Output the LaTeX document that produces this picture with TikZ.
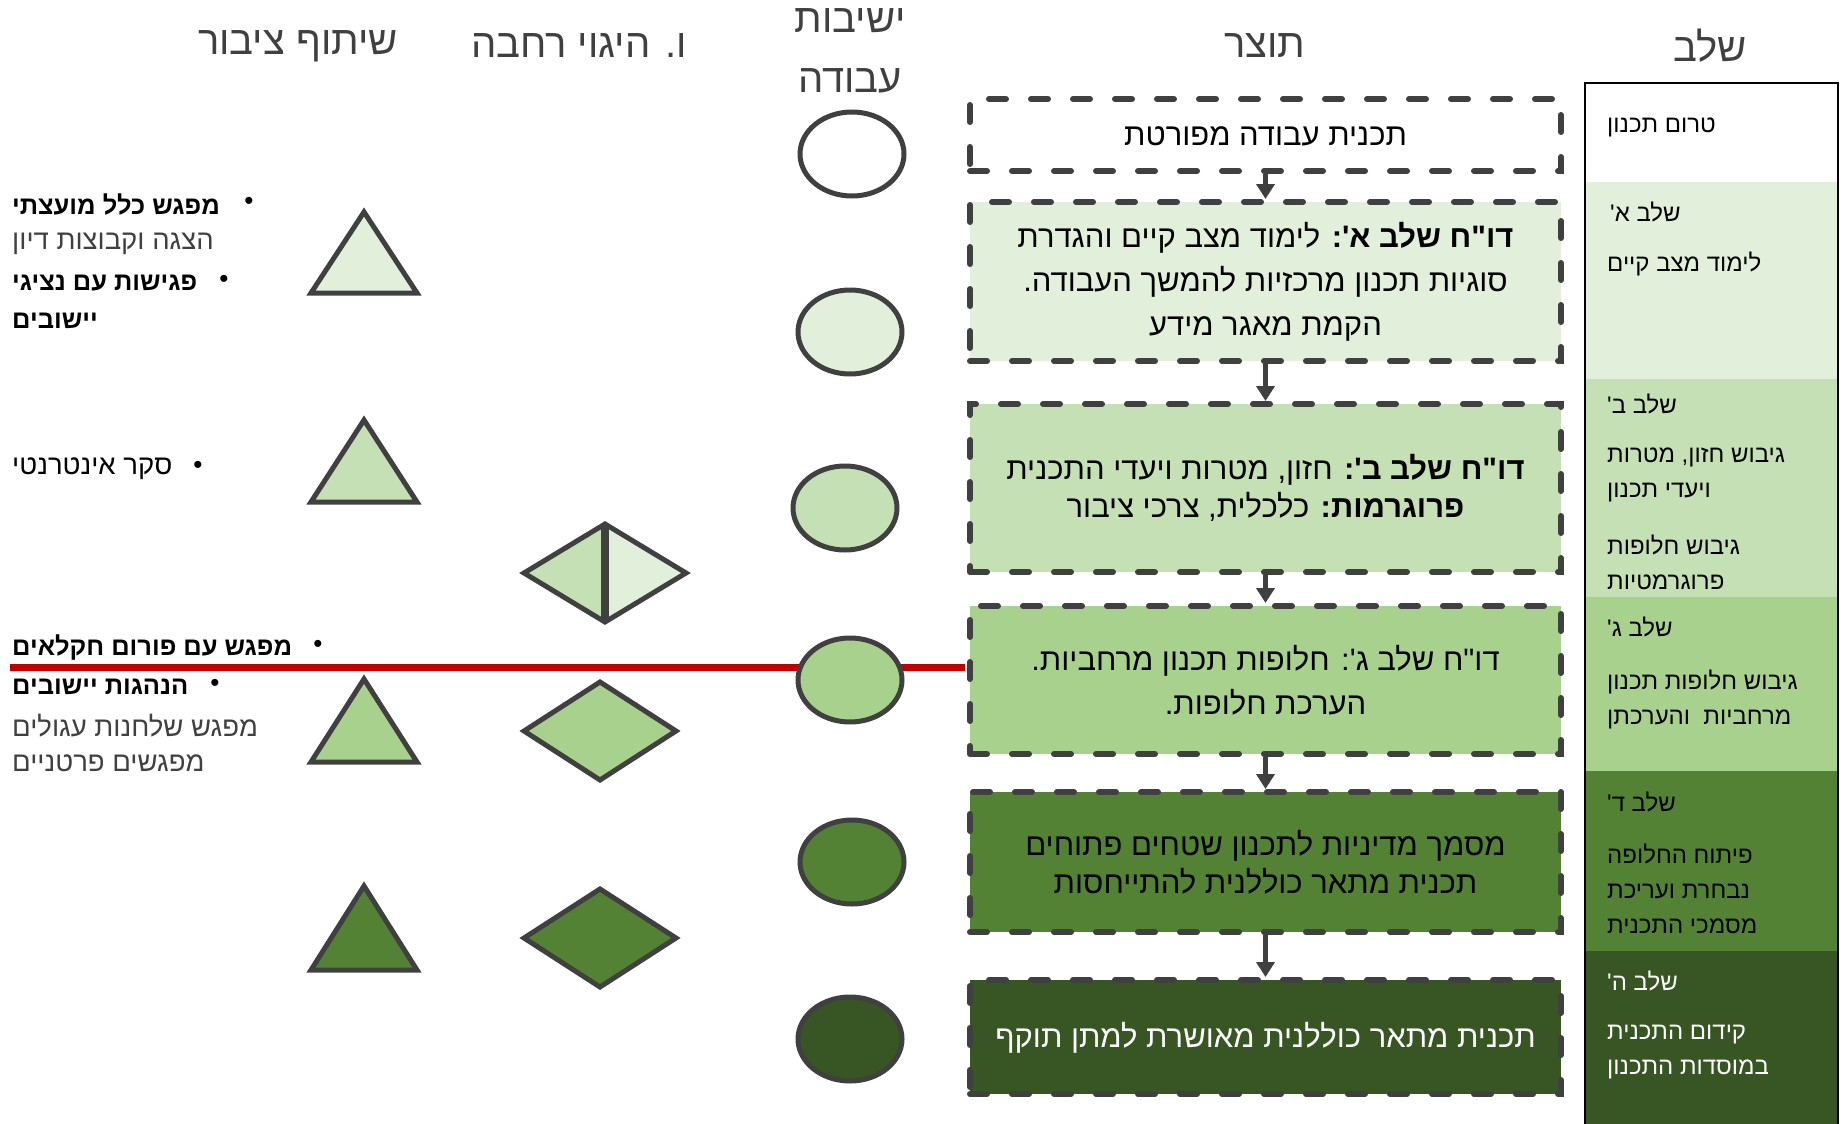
\documentclass[tikz,border=0pt]{standalone}
\usepackage{fontspec}
\usetikzlibrary{arrows.meta,shapes.geometric}
\newfontfamily\heb[Script=Hebrew]{Liberation Sans}
\TeXXeTstate=1
\newcommand\rtl[1]{\beginR#1\endR}
\definecolor{edge}{HTML}{404040}
\definecolor{gA}{HTML}{E2EFDA}
\definecolor{gB}{HTML}{C5E0B4}
\definecolor{gC}{HTML}{A9D18E}
\definecolor{gD}{HTML}{548235}
\definecolor{gE}{HTML}{375623}
\definecolor{redline}{HTML}{C00000}
\begin{document}
\begin{tikzpicture}[x=1pt,y=-1pt,
  outbox/.style={draw=edge,line width=6pt,dash pattern=on 17pt off 25pt,line cap=round,
    minimum width=591pt,inner sep=0pt,align=center,font=\heb\fontsize{31}{44}\selectfont},
  oneline/.style={text height=20pt,text depth=0pt},
  session/.style={ellipse,draw=edge,line width=5pt,minimum width=104pt,minimum height=84pt},
  shp/.style={draw=edge,line width=5pt},
  arr/.style={draw=edge,line width=5pt,-{Triangle[width=18pt,length=15pt]}},
  colhead/.style={font=\heb\fontsize{40}{60}\selectfont,text=edge,align=center},
  stagetxt/.style={anchor=west,font=\heb\fontsize{24}{35}\selectfont,inner sep=0pt},
  pubtxt/.style={anchor=west,font=\heb\fontsize{27.5}{39}\selectfont,inner sep=0pt},
  pubbold/.style={pubtxt,font=\heb\bfseries\fontsize{25.5}{39}\selectfont},
  bulletmark/.style={font=\heb\fontsize{26}{39}\selectfont,inner sep=0pt}]
\useasboundingbox (0,0) rectangle (1845,1124);
% headers
\node[colhead] (hstage) at (1710,46) {\rtl{שלב}};
\node[colhead] (hout) at (1265,46) {\rtl{תוצר}};
\node[colhead] (hmeet) at (850,51) {\rtl{ישיבות}\\\rtl{עבודה}};
\node[colhead] (hsteer) at (579,46) {\rtl{ו. היגוי רחבה}};
\node[colhead] (hpub) at (298,46) {\rtl{שיתוף ציבור}};
% stage column
\fill[gA] (1585,182) rectangle (1838,379);
\fill[gB] (1585,379) rectangle (1838,597);
\fill[gC] (1585,597) rectangle (1838,771);
\fill[gD] (1585,771) rectangle (1838,951);
\fill[gE] (1585,951) rectangle (1838,1124);
\draw[line width=2pt] (1585,1124) -- (1585,83) -- (1838,83) -- (1838,1124);
\node[stagetxt] (s0) at (1607,127) {\rtl{טרום תכנון}};
\node[stagetxt] (s1a) at (1610,212) {\rtl{שלב א'}};
\node[stagetxt] (s1b) at (1607,264) {\rtl{לימוד מצב קיים}};
\node[stagetxt] (s2a) at (1607,404) {\rtl{שלב ב'}};
\node[stagetxt,align=left] (s2b) at (1607,475) {\rtl{גיבוש חזון, מטרות}\\\rtl{ויעדי תכנון}};
\node[stagetxt,align=left] (s2c) at (1607,562) {\rtl{גיבוש חלופות}\\\rtl{פרוגרמטיות}};
\node[stagetxt] (s3a) at (1607,627) {\rtl{שלב ג'}};
\node[stagetxt,align=left] (s3b) at (1607,699) {\rtl{גיבוש חלופות תכנון}\\\rtl{מרחביות\ \ והערכתן}};
\node[stagetxt] (s4a) at (1607,802) {\rtl{שלב ד'}};
\node[stagetxt,align=left] (s4b) at (1607,889) {\rtl{פיתוח החלופה}\\\rtl{נבחרת ועריכת}\\\rtl{מסמכי התכנית}};
\node[stagetxt,text=white] (s5a) at (1607,981) {\rtl{שלב ה'}};
\node[stagetxt,text=white,align=left] (s5b) at (1607,1052) {\rtl{קידום התכנית}\\\rtl{במוסדות התכנון}};
% output boxes
\node[outbox,oneline,fill=white,minimum height=72pt] (b0) at (1265.5,135) {\rtl{תכנית עבודה מפורטת}};
\node[outbox,fill=gA,minimum height=159pt] (b1) at (1265.5,281.5)
  {\rtl{{\bfseries דו"ח שלב א':} לימוד מצב קיים והגדרת}\\\rtl{סוגיות תכנון מרכזיות להמשך העבודה.}\\\rtl{הקמת מאגר מידע}};
\node[outbox,fill=gB,minimum height=168pt] (b2) at (1265.5,488)
  {\rtl{{\bfseries דו"ח שלב ב':} חזון, מטרות ויעדי התכנית}\\[-6pt]\rtl{{\bfseries פרוגרמות:} כלכלית, צרכי ציבור}};
\node[outbox,fill=gC,minimum height=148pt] (b3) at (1265.5,680)
  {\rtl{דו"ח שלב ג': חלופות תכנון מרחביות.}\\\rtl{הערכת חלופות.}};
\node[outbox,fill=gD,minimum height=140pt] (b4) at (1265.5,862)
  {\rtl{מסמך מדיניות לתכנון שטחים פתוחים}\\[-6pt]\rtl{תכנית מתאר כוללנית להתייחסות}};
\node[outbox,oneline,fill=gE,text=white,minimum height=114pt] (b5) at (1265.5,1037)
  {\rtl{תכנית מתאר כוללנית מאושרת למתן תוקף}};
\draw[arr] (b0) -- (b1);
\draw[arr] (b1) -- (b2);
\draw[arr] (b2) -- (b3);
\draw[arr] (b3) -- (b4);
\draw[arr] (b4) -- (b5);
% red line
\draw[redline,line width=7pt] (10,667) -- (965,667);
% work sessions
\node[session,fill=white] (m0) at (852,154) {};
\node[session,fill=gA] (m1) at (850,332) {};
\node[session,fill=gB] (m2) at (845,508) {};
\node[session,fill=gC] (m3) at (850,680) {};
\node[session,fill=gD] (m4) at (852,862) {};
\node[session,fill=gE] (m5) at (850,1039) {};
% steering
\fill[gB] (524,573) -- (605,524) -- (605,622) -- cycle;
\fill[gA] (605,524) -- (686,573) -- (605,622) -- cycle;
\draw[shp] (524,573) -- (605,524) -- (686,573) -- (605,622) -- cycle;
\draw[draw=edge,line width=8pt] (605,524) -- (605,622);
\draw[shp,fill=gC] (524,731) -- (600,682) -- (676,731) -- (600,780) -- cycle;
\draw[shp,fill=gD] (524,938) -- (600,889) -- (676,938) -- (600,987) -- cycle;
% public participation
\draw[shp,fill=gA] (364,212) -- (417,293) -- (311,293) -- cycle;
\draw[shp,fill=gB] (364,420) -- (417,502) -- (311,502) -- cycle;
\draw[shp,fill=gC] (364,679) -- (417,762) -- (311,762) -- cycle;
\draw[shp,fill=gD] (364,886) -- (417,970) -- (311,970) -- cycle;
\node[pubbold] (p1) at (12,205) {\rtl{מפגש כלל מועצתי}};
\node[pubtxt,text=edge] (p2) at (12,244) {\rtl{הצגה וקבוצות דיון}};
\node[pubbold] (p3) at (12,283) {\rtl{פגישות עם נציגי}};
\node[pubbold] (p4) at (12,321) {\rtl{יישובים}};
\node[pubtxt] (p5) at (12,469) {\rtl{סקר אינטרנטי}};
\node[pubbold] (p6) at (12,648) {\rtl{מפגש עם פורום חקלאים}};
\node[pubbold] (p7) at (12,687) {\rtl{הנהגות יישובים}};
\node[pubtxt,text=edge] (p8) at (12,726) {\rtl{מפגש שלחנות עגולים}};
\node[pubtxt,text=edge] (p9) at (12,763) {\rtl{מפגשים פרטניים}};
\node[bulletmark] (d1) at (249,203) {•};
\node[bulletmark] (d3) at (224,281) {•};
\node[bulletmark] (d5) at (198,467) {•};
\node[bulletmark] (d6) at (318,646) {•};
\node[bulletmark] (d7) at (215,685) {•};
\end{tikzpicture}
\end{document}
